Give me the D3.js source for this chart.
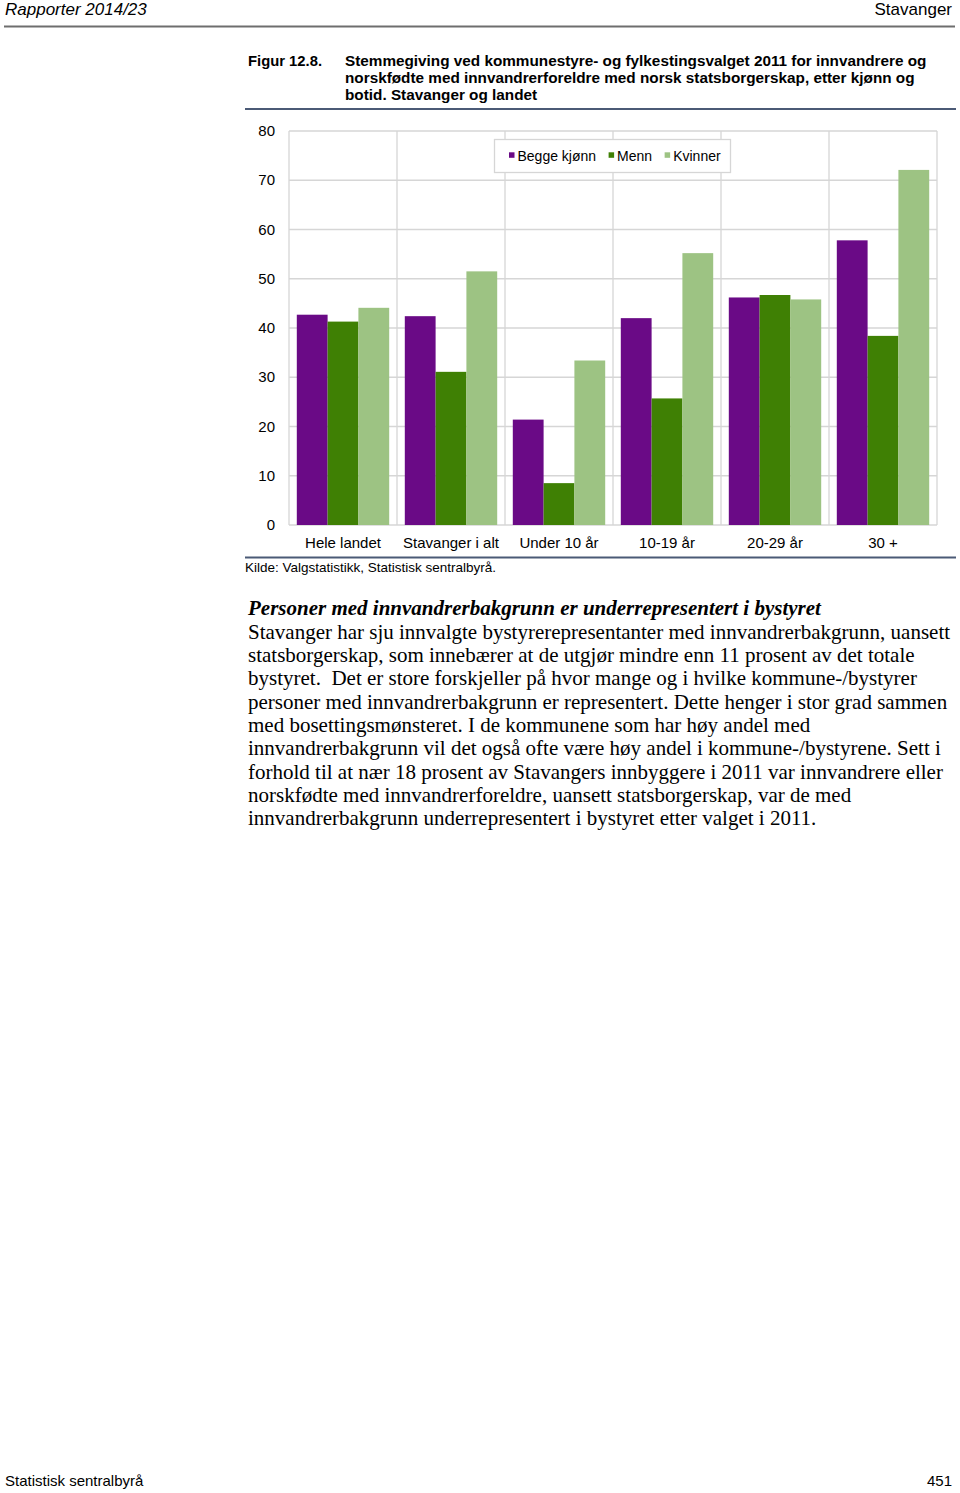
<!DOCTYPE html>
<html>
<head>
<meta charset="utf-8">
<script src="https://cdn.jsdelivr.net/npm/d3@7"></script>
<style>
  body { margin: 0; background: #fff; }
  text { font-family: "Liberation Sans", Arial, sans-serif; fill: #000; }
  .serif { font-family: "Liberation Serif", "Times New Roman", serif; }
</style>
</head>
<body>
<svg id="page"></svg>
<script>
// chart data
const categories = ['Hele landet', 'Stavanger i alt', 'Under 10 år', '10-19 år', '20-29 år', '30 +'];
const series = ['Begge kjønn', 'Menn', 'Kvinner'];
const beggeKjonn = [42.7, 42.4, 21.4, 42.0, 46.2, 57.8];
const menn = [41.3, 31.1, 8.5, 25.7, 46.7, 38.4];
const kvinner = [44.1, 51.5, 33.4, 55.2, 45.8, 72.1];
const yTicks = [0, 10, 20, 30, 40, 50, 60, 70, 80];

const COLORS = {
  'Begge kjønn': '#6a0a86',
  'Menn': '#3f8004',
  'Kvinner': '#9dc383'
};

const titleLines = [
  'Stemmegiving ved kommunestyre- og fylkestingsvalget 2011 for innvandrere og',
  'norskfødte med innvandrerforeldre med norsk statsborgerskap, etter kjønn og',
  'botid. Stavanger og landet'
];

const bodyLines = [
  'Stavanger har sju innvalgte bystyrerepresentanter med innvandrerbakgrunn, uansett',
  'statsborgerskap, som innebærer at de utgjør mindre enn 11 prosent av det totale',
  'bystyret.  Det er store forskjeller på hvor mange og i hvilke kommune-/bystyrer',
  'personer med innvandrerbakgrunn er representert. Dette henger i stor grad sammen',
  'med bosettingsmønsteret. I de kommunene som har høy andel med',
  'innvandrerbakgrunn vil det også ofte være høy andel i kommune-/bystyrene. Sett i',
  'forhold til at nær 18 prosent av Stavangers innbyggere i 2011 var innvandrere eller',
  'norskfødte med innvandrerforeldre, uansett statsborgerskap, var de med',
  'innvandrerbakgrunn underrepresentert i bystyret etter valget i 2011.'
];

const width = 960, height = 1493;
const svg = d3.select('#page').attr('width', width).attr('height', height);

// page header
svg.append('text').attr('x', 5).attr('y', 15)
  .style('font-size', '17px').style('font-style', 'italic')
  .text('Rapporter 2014/23');
svg.append('text').attr('x', 952).attr('y', 15).attr('text-anchor', 'end')
  .style('font-size', '17px')
  .text('Stavanger');
svg.append('line').attr('x1', 4).attr('x2', 955).attr('y1', 26.5).attr('y2', 26.5)
  .attr('stroke', '#6e6e6e').attr('stroke-width', 2);

// figure title
svg.append('text').attr('x', 248).attr('y', 66)
  .style('font-size', '14.8px').style('font-weight', 'bold')
  .text('Figur 12.8.');
svg.append('g').selectAll('text')
  .data(titleLines)
  .enter()
  .append('text')
  .attr('x', 345)
  .attr('y', (d, i) => 66 + i * 17)
  .style('font-size', '15.3px').style('font-weight', 'bold')
  .text(d => d);
svg.append('line').attr('x1', 245).attr('x2', 956).attr('y1', 109).attr('y2', 109)
  .attr('stroke', '#4b5a76').attr('stroke-width', 2);

// chart
const plot = { left: 289, right: 937, top: 131, bottom: 525 };
const y = d3.scaleLinear().domain([0, 80]).range([plot.bottom, plot.top]);
const x0 = d3.scaleBand().domain(categories).range([plot.left, plot.right]);
const bw = x0.bandwidth();
const x1 = d3.scaleBand().domain(series).range([7.8, bw - 7.8]);

const grid = svg.append('g').attr('stroke', '#d6d6d6').attr('stroke-width', 1.3);
grid.selectAll('line.h')
  .data(yTicks)
  .enter()
  .append('line')
  .attr('class', 'h')
  .attr('x1', plot.left).attr('x2', plot.right)
  .attr('y1', d => y(d)).attr('y2', d => y(d));
grid.selectAll('line.v')
  .data(categories.concat(['end']))
  .enter()
  .append('line')
  .attr('class', 'v')
  .attr('x1', (d, i) => i < categories.length ? x0(d) : plot.right)
  .attr('x2', (d, i) => i < categories.length ? x0(d) : plot.right)
  .attr('y1', plot.top).attr('y2', plot.bottom);

svg.append('g').selectAll('text')
  .data(yTicks)
  .enter()
  .append('text')
  .attr('x', 275)
  .attr('y', d => y(d) + 5)
  .attr('text-anchor', 'end')
  .style('font-size', '15px')
  .text(d => d);

const rows = categories.map((c, i) => ({
  category: c,
  values: [
    { key: 'Begge kjønn', value: beggeKjonn[i] },
    { key: 'Menn', value: menn[i] },
    { key: 'Kvinner', value: kvinner[i] }
  ]
}));

svg.append('g').selectAll('g')
  .data(rows)
  .enter()
  .append('g')
  .attr('transform', d => `translate(${x0(d.category)},0)`)
  .selectAll('rect')
  .data(d => d.values)
  .enter()
  .append('rect')
  .attr('x', d => x1(d.key))
  .attr('width', x1.bandwidth())
  .attr('y', d => y(d.value))
  .attr('height', d => y(0) - y(d.value))
  .attr('fill', d => COLORS[d.key]);

svg.append('g').selectAll('text')
  .data(categories)
  .enter()
  .append('text')
  .attr('x', d => x0(d) + bw / 2)
  .attr('y', 548)
  .attr('text-anchor', 'middle')
  .style('font-size', '15px')
  .text(d => d);

// legend
const legend = svg.append('g');
legend.append('rect')
  .attr('x', 494.5).attr('y', 139.5).attr('width', 236).attr('height', 33)
  .attr('fill', '#fff').attr('stroke', '#d6d6d6').attr('stroke-width', 1.3);
let lx = 509;
series.forEach(s => {
  legend.append('rect').attr('x', lx).attr('y', 152.3).attr('width', 5.5).attr('height', 5.5)
    .attr('fill', COLORS[s]);
  const t = legend.append('text').attr('x', lx + 8.5).attr('y', 160.5)
    .style('font-size', '14px').text(s);
  lx += 8.5 + t.node().getComputedTextLength() + 12.5;
});

svg.append('line').attr('x1', 245).attr('x2', 956).attr('y1', 557.5).attr('y2', 557.5)
  .attr('stroke', '#4b5a76').attr('stroke-width', 2);
svg.append('text').attr('x', 245).attr('y', 572)
  .style('font-size', '13.5px')
  .text('Kilde: Valgstatistikk, Statistisk sentralbyrå.');

// body text
svg.append('text').attr('class', 'serif').attr('x', 248).attr('y', 615)
  .style('font-size', '21px').style('font-weight', 'bold').style('font-style', 'italic')
  .text('Personer med innvandrerbakgrunn er underrepresentert i bystyret');
svg.append('g').selectAll('text')
  .data(bodyLines)
  .enter()
  .append('text')
  .attr('class', 'serif')
  .attr('x', 248)
  .attr('y', (d, i) => 638.5 + i * 23.35)
  .style('font-size', '21px')
  .style('white-space', 'pre')
  .text(d => d);

// footer
svg.append('text').attr('x', 5).attr('y', 1486)
  .style('font-size', '15px')
  .text('Statistisk sentralbyrå');
svg.append('text').attr('x', 952).attr('y', 1486).attr('text-anchor', 'end')
  .style('font-size', '15px')
  .text('451');
</script>
</body>
</html>
